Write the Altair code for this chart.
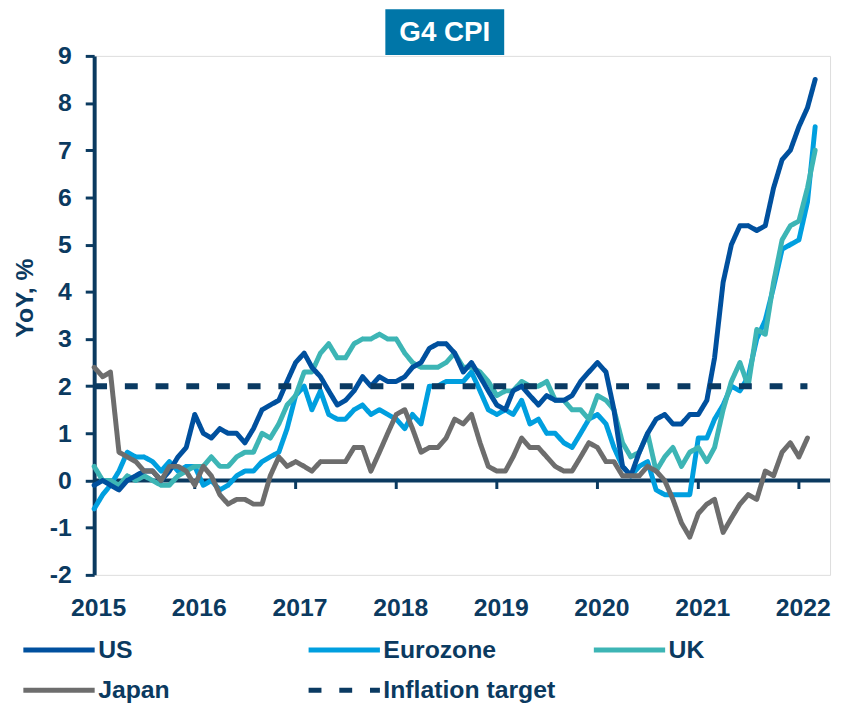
import altair as alt
import pandas as pd

# ---------------- data ----------------
series_names = ["US", "Eurozone", "UK", "Japan", "Inflation target"]
series_colors = ["#00509E", "#009FDF", "#3DB5B5", "#6D6D6D", "#0A3A62"]

us = [
    -0.1, 0.0, -0.1, -0.2, 0.0, 0.1, 0.2, 0.2, 0.0, 0.2, 0.5, 0.7,
    1.4, 1.0, 0.9, 1.1, 1.0, 1.0, 0.8, 1.1, 1.5, 1.6, 1.7, 2.1,
    2.5, 2.7, 2.4, 2.2, 1.9, 1.6, 1.7, 1.9, 2.2, 2.0, 2.2, 2.1,
    2.1, 2.2, 2.4, 2.5, 2.8, 2.9, 2.9, 2.7, 2.3, 2.5, 2.2, 1.9,
    1.6, 1.5, 1.9, 2.0, 1.8, 1.6, 1.8, 1.7, 1.7, 1.8, 2.1, 2.3,
    2.5, 2.3, 1.5, 0.3, 0.1, 0.6, 1.0, 1.3, 1.4, 1.2, 1.2, 1.4,
    1.4, 1.7, 2.6, 4.2, 5.0, 5.4, 5.4, 5.3, 5.4, 6.2, 6.8, 7.0,
    7.5, 7.9, 8.5,
]
eurozone = [
    -0.6, -0.3, -0.1, 0.2, 0.6, 0.5, 0.5, 0.4, 0.2, 0.4, 0.2, 0.3,
    0.3, -0.1, 0.0, -0.2, -0.1, 0.1, 0.2, 0.2, 0.4, 0.5, 0.6, 1.1,
    1.8, 2.0, 1.5, 1.9, 1.4, 1.3, 1.3, 1.5, 1.6, 1.4, 1.5, 1.4,
    1.3, 1.1, 1.4, 1.2, 2.0, 2.0, 2.1, 2.1, 2.1, 2.3, 1.9, 1.5,
    1.4, 1.5, 1.4, 1.7, 1.2, 1.3, 1.0, 1.0, 0.8, 0.7, 1.0, 1.3,
    1.4, 1.2, 0.7, 0.3, 0.1, 0.3, 0.4, -0.2, -0.3, -0.3, -0.3, -0.3,
    0.9, 0.9, 1.3, 1.6, 2.0, 1.9, 2.2, 3.0, 3.4, 4.1, 4.9, 5.0,
    5.1, 5.9, 7.5,
]
uk = [
    0.3, 0.0, 0.0, -0.1, 0.1, 0.0, 0.1, 0.0, -0.1, -0.1, 0.1, 0.2,
    0.3, 0.3, 0.5, 0.3, 0.3, 0.5, 0.6, 0.6, 1.0, 0.9, 1.2, 1.6,
    1.8, 2.3, 2.3, 2.7, 2.9, 2.6, 2.6, 2.9, 3.0, 3.0, 3.1, 3.0,
    3.0, 2.7, 2.5, 2.4, 2.4, 2.4, 2.5, 2.7, 2.4, 2.4, 2.3, 2.1,
    1.8, 1.9, 1.9, 2.1, 2.0, 2.0, 2.1, 1.7, 1.7, 1.5, 1.5, 1.3,
    1.8, 1.7, 1.5, 0.8, 0.5, 0.6, 1.0, 0.2, 0.5, 0.7, 0.3, 0.6,
    0.7, 0.4, 0.7, 1.5, 2.1, 2.5, 2.0, 3.2, 3.1, 4.2, 5.1, 5.4,
    5.5, 6.2, 7.0,
]
japan = [
    2.4, 2.2, 2.3, 0.6, 0.5, 0.4, 0.2, 0.2, 0.0, 0.3, 0.3, 0.2,
    -0.1, 0.3, 0.1, -0.3, -0.5, -0.4, -0.4, -0.5, -0.5, 0.1, 0.5, 0.3,
    0.4, 0.3, 0.2, 0.4, 0.4, 0.4, 0.4, 0.7, 0.7, 0.2, 0.6, 1.0,
    1.4, 1.5, 1.1, 0.6, 0.7, 0.7, 0.9, 1.3, 1.2, 1.4, 0.8, 0.3,
    0.2, 0.2, 0.5, 0.9, 0.7, 0.7, 0.5, 0.3, 0.2, 0.2, 0.5, 0.8,
    0.7, 0.4, 0.4, 0.1, 0.1, 0.1, 0.3, 0.2, 0.0, -0.4, -0.9, -1.2,
    -0.7, -0.5, -0.4, -1.1, -0.8, -0.5, -0.3, -0.4, 0.2, 0.1, 0.6, 0.8,
    0.5, 0.9,
]
target_dates = ["2015-01-01", "2022-02-01"]
target_values = [2.0, 2.0]

tick_years = [2015, 2016, 2017, 2018, 2019, 2020, 2021, 2022]
y_ticks = [-2, -1, 0, 1, 2, 3, 4, 5, 6, 7, 8, 9]
chart_title = ["G4 CPI"]

# ---------------- table ----------------
months = pd.date_range("2015-01-01", periods=len(us), freq="MS")
rows = []
for name, vals in [("US", us), ("Eurozone", eurozone), ("UK", uk), ("Japan", japan)]:
    for d, v in zip(months, vals):
        rows.append({"date": d, "value": v, "series": name})
for d, v in zip(target_dates, target_values):
    rows.append({"date": pd.Timestamp(d), "value": v, "series": "Inflation target"})
df = pd.DataFrame(rows)

tick_df = pd.DataFrame({"date": [pd.Timestamp(f"{y}-01-01") for y in tick_years[1:]]})

NAVY = "#0B3A60"
FONT = "Liberation Sans"

x_scale = alt.Scale(domain=[alt.DateTime(year=2015, month=1, date=1),
                            alt.DateTime(year=2022, month=4, date=24)])
y_scale = alt.Scale(domain=[-2, 9], nice=False, zero=False)

color_scale = alt.Scale(domain=series_names, range=series_colors)
dash_scale = alt.Scale(domain=series_names,
                       range=[[1, 0], [1, 0], [1, 0], [1, 0], [13, 18]])

# long horizontal stroke drawn from a small symbol box (keeps legend rows compact)
legend = alt.Legend(
    title=None, orient="none", legendX=-50, legendY=585, direction="horizontal",
    columns=3, gridAlign="all", columnPadding=28, rowPadding=13,
    symbolType="M-3,0H3", symbolSize=576, symbolStrokeWidth=5,
    symbolFillColor="transparent",
    labelFont=FONT, labelFontSize=25, labelFontWeight="bold", labelColor=NAVY,
    labelOffset=25, padding=0, labelLimit=400,
)

x_enc = alt.X(
    "date:T", scale=x_scale, title=None,
    axis=alt.Axis(
        values=[alt.DateTime(year=y, month=1, date=1) for y in tick_years],
        format="%Y", ticks=False, tickSize=0, domain=False, grid=False,
        labelFont=FONT, labelFontSize=25, labelFontWeight="bold", labelColor=NAVY,
        labelPadding=21, labelOffset=4, labelOverlap=False, labelFlush=False,
    ),
)
y_enc = alt.Y(
    "value:Q", scale=y_scale, title="YoY, %",
    axis=alt.Axis(
        values=y_ticks, grid=False, domainColor=NAVY, domainWidth=4,
        tickColor=NAVY, tickWidth=3, tickSize=9,
        labelExpr="'' + datum.value",
        labelFont=FONT, labelFontSize=25, labelFontWeight="bold", labelColor=NAVY,
        labelPadding=14,
        titleFont=FONT, titleFontSize=25, titleFontWeight="bold", titleColor=NAVY,
        titleX=-57, titleY=244, titleAlign="center",
    ),
)

zero_line = alt.Chart(pd.DataFrame({"z": [0]})).mark_rule(
    color=NAVY, strokeWidth=4).encode(y=alt.Y("z:Q", scale=y_scale))

year_ticks = alt.Chart(tick_df).mark_rule(color=NAVY, strokeWidth=3).encode(
    x=alt.X("date:T", scale=x_scale),
    y=alt.datum(0),
    y2=alt.datum(-0.18),
)

draw_order = ["Eurozone", "UK", "US", "Japan", "Inflation target"]
line_layers = []
for s in draw_order:
    w = 6 if s == "Inflation target" else 5
    line_layers.append(
        alt.Chart(df).transform_filter(alt.datum.series == s)
        .mark_line(strokeWidth=w, strokeCap="round" if s != "Inflation target" else "butt",
                   strokeJoin="round")
        .encode(
            x=x_enc, y=y_enc,
            color=alt.Color("series:N", scale=color_scale, legend=legend),
            strokeDash=alt.StrokeDash("series:N", scale=dash_scale, legend=legend),
        )
    )

title_df = pd.DataFrame({"t": chart_title})
title_box = alt.Chart(title_df).mark_rect(color="#0076A8").encode(
    x=alt.value(294), x2=alt.value(414), y=alt.value(-47), y2=alt.value(-1))
title_text = alt.Chart(title_df).mark_text(
    font=FONT, fontSize=28, fontWeight="bold", color="white",
    align="center", baseline="middle").encode(
    x=alt.value(354), y=alt.value(-23), text="t:N")

chart = alt.layer(
    zero_line, year_ticks, *line_layers, title_box, title_text
).properties(
    width=743, height=524,
    padding={"left": 87, "top": 45, "right": 5, "bottom": 126},
    autosize=alt.AutoSizeParams(type="none"),
).configure_view(stroke=None).configure(background="white")

chart.save("out.html", embed_options={"renderer": "svg", "actions": False})
